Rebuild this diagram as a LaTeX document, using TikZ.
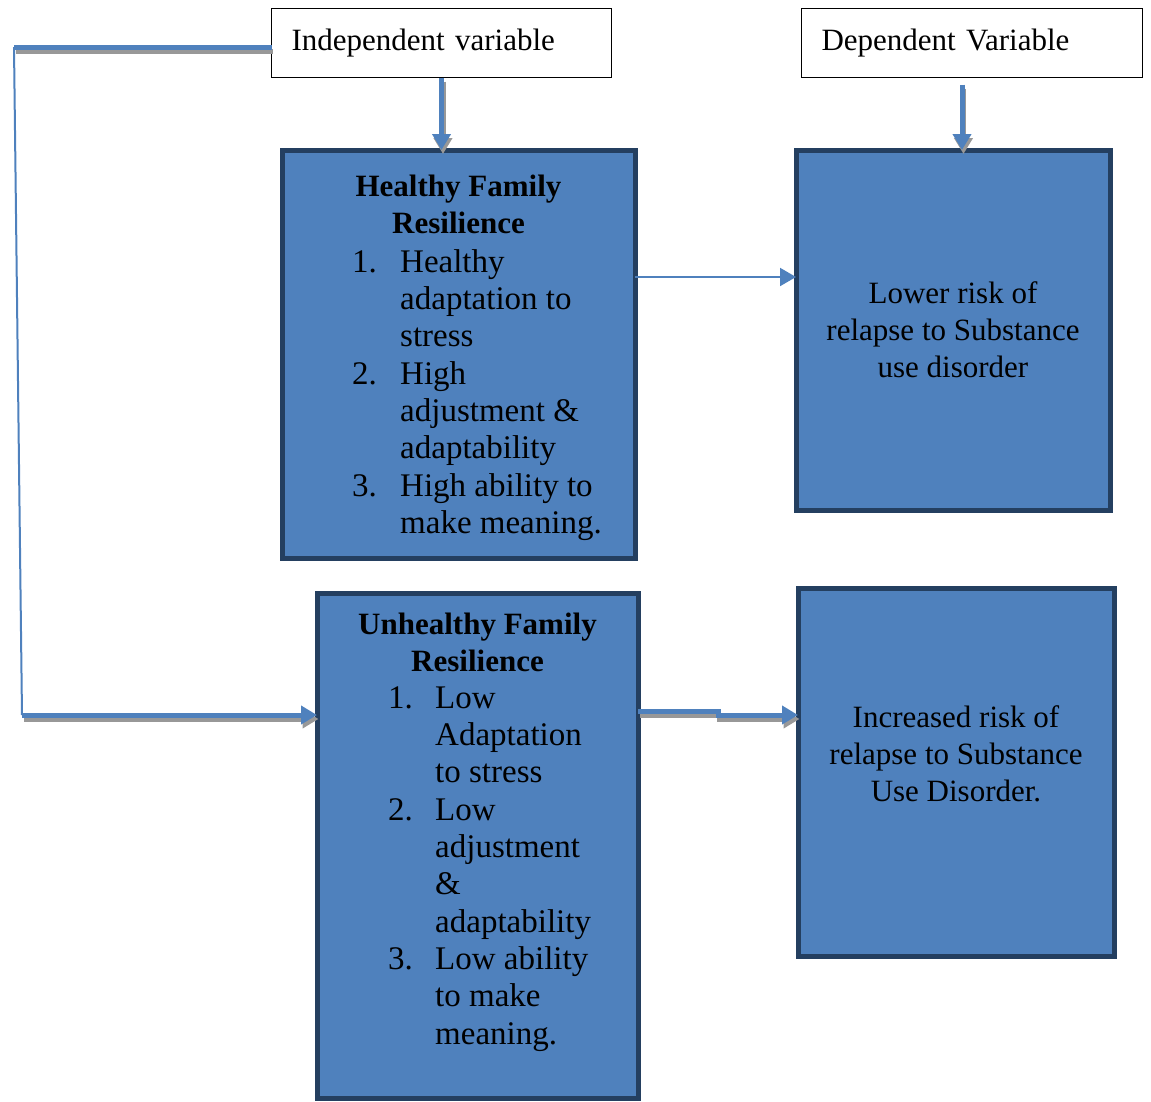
\documentclass[tikz,border=0pt]{standalone}
\usepackage{fontspec}
\setmainfont{Liberation Serif}
\usetikzlibrary{positioning,arrows.meta}

\definecolor{accblue}{HTML}{4F81BD}
\definecolor{accdark}{HTML}{243F60}
\definecolor{shadowgray}{HTML}{989898}

\tikzset{
    varbox/.style={draw=black, line width=1.3pt, fill=white, outer sep=0pt, anchor=north west,
        inner xsep=20pt, align=left, font=\fontsize{31}{37}\selectfont},
    resbox/.style={draw=accdark, line width=5pt, fill=accblue, outer sep=0pt, anchor=north west, inner sep=0pt},
    boxhead/.style={inner sep=0pt, font=\bfseries\fontsize{31}{36.5}\selectfont},
    boxlist/.style={inner sep=0pt, font=\fontsize{33}{37.3}\selectfont},
    boxtext/.style={inner sep=0pt, font=\fontsize{31}{37}\selectfont},
    link/.style={draw=accblue, line width=5pt},
    thinlink/.style={draw=accblue, line width=2pt},
    shadowed/.style={preaction={draw=shadowgray, line width=5pt, transform canvas={xshift=1.5pt, yshift=-4pt}}},
    >={Triangle[length=16pt, width=18pt]}
}

\begin{document}
\begin{tikzpicture}[x=1pt, y=-1pt]
    \useasboundingbox (0,0) rectangle (1151,1101);

    % variable headings
    \node[varbox, text width=300pt, minimum height=69pt] (indep) at (271.5,8.5) {Independent variable};
    \node[varbox, text width=301pt, minimum height=69pt] (dep) at (801.5,8.5) {Dependent Variable};

    % the four boxes
    \node[resbox, minimum width=353pt, minimum height=408pt] (hfr) at (282,150) {};
    \node[resbox, minimum width=314pt, minimum height=360pt] (lrisk) at (796,150) {};
    \node[resbox, minimum width=321pt, minimum height=505pt] (ufr) at (317,593) {};
    \node[resbox, minimum width=316pt, minimum height=368pt] (irisk) at (798,588) {};

    % healthy
    \node[boxhead, below=21pt of hfr.north] (hfrhead)
        {\begin{tabular}{@{}c@{}}Healthy Family\\Resilience\end{tabular}};
    \node[boxlist, below right=96pt and 70pt of hfr.north west] (hfrlist)
        {\begin{tabular}{@{}p{48pt}@{}l@{}}
        1. & Healthy\\ & adaptation to\\ & stress\\
        2. & High\\ & adjustment \&\\ & adaptability\\
        3. & High ability to\\ & make meaning.
        \end{tabular}};
    \node[boxtext, below=127pt of lrisk.north] (lrisktext)
        {\begin{tabular}{@{}c@{}}Lower risk of\\relapse to Substance\\use disorder\end{tabular}};

    % unhealthy
    \node[boxhead, below=16pt of ufr.north] (ufrhead)
        {\begin{tabular}{@{}c@{}}Unhealthy Family\\Resilience\end{tabular}};
    \node[boxlist, below right=89pt and 71pt of ufr.north west] (ufrlist)
        {\begin{tabular}{@{}p{47pt}@{}l@{}}
        1. & Low\\ & Adaptation\\ & to stress\\
        2. & Low\\ & adjustment\\ & \&\\ & adaptability\\
        3. & Low ability\\ & to make\\ & meaning.
        \end{tabular}};
    \node[boxtext, below=113pt of irisk.north] (irisktext)
        {\begin{tabular}{@{}c@{}}Increased risk of\\relapse to Substance\\Use Disorder.\end{tabular}};

    % connectors
    \coordinate (cornertop) at (14,47);
    \coordinate (cornerbot) at (22,715);
    \coordinate (stepup) at (718,711);
    \coordinate (stepdown) at (718,715);

    \draw[link, shadowed] (cornertop -| indep.west) -- (cornertop);
    \draw[thinlink] (cornertop) -- (cornerbot);
    \draw[link, shadowed, ->] (cornerbot) -- (cornerbot -| ufr.west);
    \draw[link, shadowed, ->] (indep.south) -- (indep.south |- hfr.north);
    \draw[link, shadowed, ->] ([shift={(-10pt,-7pt)}]dep.south) -- ([xshift=-10pt]dep.south |- lrisk.north);
    \draw[thinlink, ->] ([yshift=77pt]hfr.east) -- ([yshift=77pt]hfr.east -| lrisk.west);
    \draw[link, shadowed, ->] (stepup -| ufr.east) -- (stepup) -- (stepdown) -- (stepdown -| irisk.west);
\end{tikzpicture}
\end{document}
